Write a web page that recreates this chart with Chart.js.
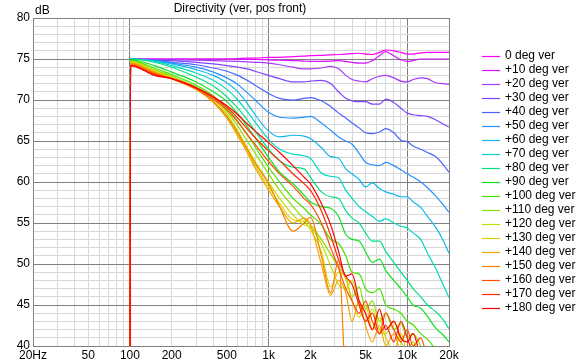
<!DOCTYPE html>
<html>
<head>
<meta charset="utf-8">
<script src="https://cdn.jsdelivr.net/npm/chart.js@4.4.1/dist/chart.umd.min.js"></script>
<style>
  html, body { margin: 0; padding: 0; background: #fff; }
  #wrap { width: 577px; height: 364px; position: relative; }
</style>
</head>
<body>
<div id="wrap"><canvas id="c" width="577" height="364"></canvas></div>
<script>
// frequencies (Hz), shared by every curve. first point is the gate at 100 Hz
var freqs = [100, 101, 150, 200, 300, 400, 500, 600, 700, 800, 1000, 1200, 1500, 1800, 2000, 2400, 2800, 3200, 3600, 4000, 4500, 5000, 5600, 6300, 7000, 8000, 9000, 10000, 11000, 12500, 14000, 16000, 18000, 20000];

var labels = ['0 deg ver', '+10 deg ver', '+20 deg ver', '+30 deg ver', '+40 deg ver', '+50 deg ver', '+60 deg ver', '+70 deg ver', '+80 deg ver', '+90 deg ver',
  '+100 deg ver', '+110 deg ver', '+120 deg ver', '+130 deg ver', '+140 deg ver', '+150 deg ver', '+160 deg ver', '+170 deg ver', '+180 deg ver'];

var colors = ['#ff00ff', '#d810ff', '#a838ff', '#8044ff', '#4a62ff', '#2890ff', '#10b8ec', '#00d8c0', '#00e080', '#10e020',
  '#48e000', '#88e000', '#c0e000', '#e0d000', '#f0a800', '#f88000', '#ff5000', '#ff2800', '#ff0000'];

// dB values, one per frequency (20 = below the plot, draws the gate edge)
var deg0 = [20, 75.0, 75.0, 75.0, 75.0, 75.0, 75.0, 75.05, 75.1, 75.1, 75.2, 75.2, 75.3, 75.35, 75.4, 75.45, 75.5, 75.55, 75.6, 75.65, 75.7, 75.6, 75.55, 75.8, 76.1, 76.0, 75.8, 75.6, 75.6, 75.75, 75.8, 75.8, 75.8, 75.8];
var deg10 = [20, 75.0, 75.0, 75.0, 75.0, 75.0, 75.0, 75.0, 74.95, 74.95, 74.9, 74.85, 74.8, 74.75, 74.7, 74.7, 74.75, 74.8, 74.7, 74.6, 74.5, 74.5, 74.8, 75.4, 75.9, 75.4, 74.9, 74.7, 74.8, 75.0, 75.0, 75.0, 75.0, 75.0];
var deg20 = [20, 75.0, 74.95, 74.9, 74.85, 74.8, 74.75, 74.7, 74.65, 74.6, 74.5, 74.3, 74.0, 73.8, 73.8, 73.9, 74.1, 73.8, 73.0, 72.5, 72.3, 72.2, 72.6, 72.9, 73.0, 72.7, 72.3, 72.2, 72.5, 72.7, 72.6, 72.1, 72.0, 71.9];
var deg30 = [20, 75.0, 74.9, 74.8, 74.6, 74.4, 74.2, 74.0, 73.8, 73.5, 73.0, 72.6, 72.2, 72.2, 72.3, 72.4, 72.0, 71.0, 70.2, 69.9, 69.8, 69.8, 69.5, 69.5, 70.1, 69.7, 69.0, 68.4, 68.2, 68.1, 68.0, 67.6, 67.1, 66.7];
var deg40 = [20, 75.0, 74.85, 74.6, 74.3, 73.9, 73.5, 73.0, 72.4, 71.8, 70.8, 70.2, 70.0, 70.2, 70.3, 69.9, 69.2, 68.4, 67.8, 67.2, 66.6, 66.0, 65.9, 66.1, 66.5, 66.0, 65.1, 64.9, 64.4, 64.0, 63.6, 63.1, 62.2, 61.2];
var deg50 = [20, 75.0, 74.8, 74.5, 74.0, 73.4, 72.7, 71.9, 70.9, 70.0, 68.5, 67.9, 67.8, 67.9, 68.0, 67.2, 66.3, 65.5, 65.0, 64.6, 63.5, 62.4, 62.1, 62.0, 62.4, 62.0, 61.5, 61.0, 60.6, 60.0, 59.3, 58.3, 57.3, 56.3];
var deg60 = [20, 75.0, 74.75, 74.4, 73.7, 73.0, 72.1, 71.0, 69.6, 68.2, 66.2, 65.5, 65.7, 65.6, 65.3, 64.2, 63.1, 62.9, 61.6, 61.0, 60.3, 59.4, 59.9, 59.2, 58.8, 58.5, 58.2, 58.2, 57.6, 56.9, 55.8, 54.5, 53.0, 51.3];
var deg70 = [20, 75.0, 74.7, 74.2, 73.3, 72.4, 71.3, 70.0, 68.6, 67.3, 65.2, 64.0, 63.4, 63.2, 62.9, 61.1, 60.7, 60.5, 59.0, 58.0, 57.0, 56.4, 55.8, 55.2, 55.5, 55.0, 54.6, 54.4, 53.8, 53.0, 51.3, 49.5, 47.6, 45.9];
var deg80 = [20, 75.0, 74.6, 74.0, 72.8, 71.7, 70.4, 69.0, 67.6, 66.2, 64.0, 62.6, 61.8, 61.6, 60.6, 58.8, 58.2, 58.0, 56.5, 55.6, 55.0, 53.8, 52.8, 52.8, 51.5, 50.2, 49.0, 48.0, 47.0, 46.0, 45.0, 44.2, 43.3, 42.1];
var deg90 = [20, 74.9, 74.2, 73.4, 72.2, 71.0, 69.8, 68.3, 66.8, 65.4, 63.0, 61.2, 59.8, 58.4, 57.6, 57.0, 56.8, 55.8, 53.6, 53.0, 52.8, 51.5, 50.2, 50.6, 49.2, 48.0, 47.0, 46.0, 45.0, 44.6, 43.6, 42.2, 41.4, 40.5];
var deg100 = [20, 74.8, 73.9, 73.1, 71.8, 70.5, 69.0, 67.4, 65.8, 64.3, 61.8, 60.0, 58.0, 56.8, 56.0, 54.8, 53.0, 52.5, 51.0, 49.0, 48.8, 47.0, 46.5, 47.0, 45.0, 44.5, 44.0, 43.0, 42.6, 41.5, 40.8, 39.6, 38.5, 37.5];
var deg110 = [20, 74.7, 73.7, 72.9, 71.6, 70.3, 68.6, 66.8, 65.0, 63.5, 61.0, 59.0, 57.0, 55.5, 54.8, 53.0, 51.2, 49.6, 48.5, 46.0, 47.2, 44.5, 45.5, 43.0, 44.0, 42.0, 42.8, 41.0, 41.5, 40.0, 38.5, 37.5, 36.5, 35.5];
var deg120 = [20, 74.7, 73.6, 72.8, 71.5, 70.1, 68.3, 66.2, 64.2, 62.5, 60.0, 58.0, 56.0, 54.8, 54.5, 52.5, 49.8, 47.5, 47.0, 48.0, 45.0, 43.0, 44.5, 42.0, 41.5, 43.0, 40.5, 39.5, 40.5, 38.5, 37.0, 36.0, 35.0, 34.0];
var deg130 = [20, 74.6, 73.5, 72.7, 71.4, 69.8, 68.0, 65.8, 63.9, 62.0, 59.4, 57.4, 55.4, 55.2, 54.2, 51.5, 47.2, 49.0, 48.2, 45.5, 43.5, 45.0, 42.0, 43.5, 41.0, 39.5, 41.5, 39.0, 37.5, 36.0, 35.0, 34.0, 33.0, 32.0];
var deg140 = [20, 74.5, 73.4, 72.6, 71.3, 69.7, 67.8, 65.6, 63.6, 61.7, 59.0, 57.0, 55.0, 55.6, 54.8, 50.0, 46.2, 48.0, 46.5, 43.0, 45.5, 42.5, 40.5, 42.5, 40.0, 41.5, 39.0, 38.0, 37.0, 36.0, 35.0, 34.0, 33.0, 32.0];
var deg150 = [20, 74.4, 73.3, 72.6, 71.3, 69.8, 68.0, 66.0, 64.0, 62.3, 59.8, 57.0, 54.0, 55.0, 55.7, 51.0, 46.5, 50.5, 36.0, 34.0, 33.0, 32.0, 31.0, 30.0, 30.0, 30.0, 30.0, 30.0, 30.0, 30.0, 30.0, 30.0, 30.0, 30.0];
var deg160 = [20, 74.3, 73.2, 72.6, 71.4, 70.1, 68.8, 67.3, 65.8, 64.6, 62.5, 61.0, 59.5, 58.0, 57.3, 55.0, 52.0, 49.5, 47.0, 45.5, 44.0, 45.5, 43.0, 41.5, 44.0, 42.0, 40.5, 42.0, 40.0, 41.0, 38.5, 37.0, 36.0, 35.0];
var deg170 = [20, 74.2, 73.1, 72.6, 71.5, 70.3, 69.1, 67.8, 66.5, 65.4, 63.8, 62.6, 61.0, 59.8, 59.0, 56.5, 53.5, 50.5, 48.5, 47.5, 45.0, 43.0, 44.0, 41.5, 42.5, 40.5, 43.0, 41.0, 39.0, 37.0, 36.0, 35.0, 34.0, 33.0];
var deg180 = [20, 74.2, 73.0, 72.6, 71.5, 70.4, 69.3, 68.2, 67.1, 66.2, 64.8, 63.6, 62.0, 60.6, 59.8, 57.4, 54.8, 51.5, 48.5, 48.8, 45.5, 44.0, 42.0, 44.5, 42.0, 43.0, 41.0, 40.5, 41.5, 38.5, 36.0, 35.0, 34.0, 33.0];

var series = [deg0, deg10, deg20, deg30, deg40, deg50, deg60, deg70, deg80, deg90, deg100, deg110, deg120, deg130, deg140, deg150, deg160, deg170, deg180];

// grid lines on the log axis (1-2-3..9 pattern), labelled ones
var xGrid = [20, 30, 40, 50, 60, 70, 80, 90, 100, 200, 300, 400, 500, 600, 700, 800, 900, 1000, 2000, 3000, 4000, 5000, 6000, 7000, 8000, 9000, 10000, 20000];
var xTickLabels = { 20: '20Hz', 50: '50', 100: '100', 200: '200', 500: '500', 1000: '1k', 2000: '2k', 5000: '5k', 10000: '10k', 20000: '20k' };
var xMajor = [100, 1000, 10000, 20000];

var datasets = series.map(function (vals, i) {
  return {
    label: labels[i],
    data: vals.map(function (v, j) { return { x: freqs[j], y: v }; }),
    borderColor: colors[i],
    backgroundColor: colors[i],
    borderWidth: 1.2,
    pointRadius: 0,
    cubicInterpolationMode: 'monotone',
    fill: false,
    order: 18 - i   // red on top
  };
});

var FONT = "'Liberation Sans', Arial, sans-serif";

// title, "dB" label and the legend on the right
var textPlugin = {
  id: 'texts',
  afterDraw: function (chart) {
    var ctx = chart.ctx;
    ctx.save();
    ctx.fillStyle = '#000';
    ctx.font = '12px ' + FONT;
    ctx.textBaseline = 'middle';
    ctx.textAlign = 'center';
    ctx.fillText('Directivity (ver, pos front)', 240, 9);
    ctx.textAlign = 'left';
    ctx.fillText('dB', 35, 11);
    for (var i = 0; i < labels.length; i++) {
      var y = 56 + i * 14;
      ctx.strokeStyle = colors[i];
      ctx.lineWidth = 1.2;
      ctx.beginPath();
      ctx.moveTo(482, y + 0.5);
      ctx.lineTo(500, y + 0.5);
      ctx.stroke();
      ctx.fillStyle = '#000';
      ctx.fillText(labels[i], 505, y);
    }
    ctx.restore();
  }
};

new Chart(document.getElementById('c'), {
  type: 'line',
  data: { datasets: datasets },
  options: {
    responsive: false,
    animation: false,
    devicePixelRatio: 1,
    layout: { padding: { left: 0, top: 18, right: 128, bottom: 0 } },
    plugins: { legend: { display: false }, title: { display: false }, tooltip: { enabled: false } },
    scales: {
      x: {
        type: 'logarithmic',
        min: 20,
        max: 20000,
        afterBuildTicks: function (scale) {
          scale.ticks = xGrid.map(function (v) { return { value: v }; });
        },
        afterFit: function (scale) { scale.height = 18; },
        ticks: {
          autoSkip: false,
          maxRotation: 0,
          padding: 2,
          color: '#000',
          font: { family: FONT, size: 12 },
          callback: function (v) { return xTickLabels[v] || ''; }
        },
        grid: {
          drawTicks: false,
          color: function (c) { return xMajor.indexOf(c.tick.value) >= 0 ? '#808080' : '#d8d8d8'; }
        },
        border: { color: '#808080' }
      },
      y: {
        min: 40,
        max: 80,
        afterFit: function (scale) { scale.width = 33; },
        ticks: {
          stepSize: 1,
          autoSkip: false,
          padding: 3,
          color: '#000',
          font: { family: FONT, size: 12 },
          callback: function (v) { return v % 5 === 0 ? String(v) : ''; }
        },
        grid: {
          drawTicks: false,
          color: function (c) { return c.tick.value % 5 === 0 ? '#808080' : '#d8d8d8'; }
        },
        border: { color: '#808080' }
      }
    }
  },
  plugins: [textPlugin]
});
</script>
</body>
</html>
